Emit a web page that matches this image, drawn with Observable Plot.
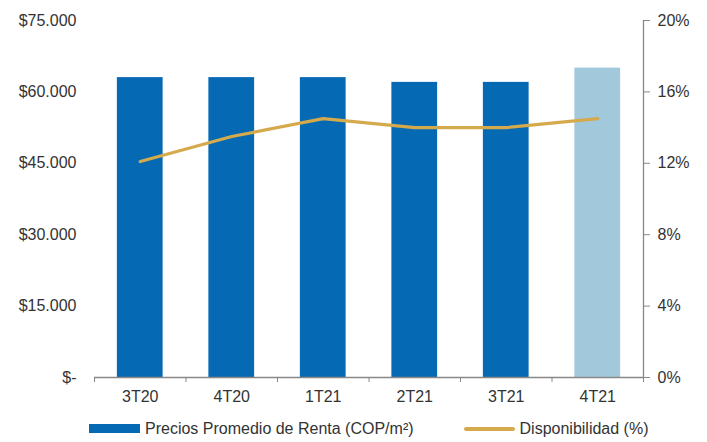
<!DOCTYPE html>
<html>
<head>
<meta charset="utf-8">
<script src="https://cdn.jsdelivr.net/npm/d3@7"></script>
<script src="https://cdn.jsdelivr.net/npm/@observablehq/plot@0.6"></script>
<style>
  body { margin: 0; background: #fff; font-family: "Liberation Sans", Arial, sans-serif; }
  #chart svg { display: block; }
  .legend { display: flex; align-items: center; height: 27px; font-size: 16px; color: #333; padding-left: 89px; }
  .legend .item { display: flex; align-items: center; }
  .legend .swatch-bar { width: 51px; height: 9px; background: #0569b3; margin-right: 5px; }
  .legend .swatch-line { width: 51px; height: 4px; border-radius: 2px; background: #d4aa4d; margin-right: 5px; }
</style>
</head>
<body>
<div id="chart"></div>
<div class="legend">
  <div class="item"><span class="swatch-bar"></span><span>Precios Promedio de Renta (COP/m²)</span></div>
  <div class="item" style="margin-left:50px"><span class="swatch-line"></span><span>Disponibilidad (%)</span></div>
</div>
<script>
// Quarters on the x axis
const quarters = ["3T20", "4T20", "1T21", "2T21", "3T21", "4T21"];
// Average rent price, COP per m²
const rentPrices = [63000, 63000, 63000, 62000, 62000, 65000];
// Availability rate, %
const availability = [12.1, 13.5, 14.5, 14.0, 14.0, 14.5];
// Last quarter is drawn in a lighter shade
const projected = [false, false, false, false, false, true];

const leftTicks = [0, 15000, 30000, 45000, 60000, 75000];
const rightTicks = [0, 4, 8, 12, 16, 20];
const priceMax = 75000;
const pctMax = 20;
const toPrice = p => p * priceMax / pctMax;

const rows = quarters.map((q, i) => ({
  q, i, price: rentPrices[i], pct: availability[i], projected: projected[i]
}));

const fmtPrice = d => d === 0 ? "$-" : "$" + d3.format(",")(d).replace(/,/g, ".");

const chart = Plot.plot({
  width: 707,
  height: 415,
  marginLeft: 94,
  marginRight: 64,
  marginTop: 20,
  marginBottom: 38,
  style: { fontFamily: "Liberation Sans, Arial, sans-serif", fontSize: "16px", color: "#333" },
  x: { type: "linear", domain: [0, quarters.length] },
  y: { domain: [0, priceMax] },
  marks: [
    Plot.rectY(rows, {
      x1: d => d.i + 0.25,
      x2: d => d.i + 0.75,
      y1: 0,
      y2: "price",
      fill: d => d.projected ? "#a2c8dc" : "#0569b3"
    }),
    Plot.line(rows, {
      x: d => d.i + 0.5,
      y: d => toPrice(d.pct),
      stroke: "#d4aa4d",
      strokeWidth: 3.2,
      strokeLinejoin: "round",
      strokeLinecap: "round",
      curve: "linear"
    }),
    // left axis: labels only
    Plot.axisY({
      anchor: "left",
      ticks: leftTicks,
      tickSize: 0,
      tickPadding: 18,
      tickFormat: fmtPrice,
      label: null,
      fill: "#333"
    }),
    // right axis: availability percentages
    Plot.ruleX([quarters.length], { y1: 0, y2: priceMax, stroke: "#888", strokeWidth: 1.3 }),
    Plot.axisY({
      anchor: "right",
      ticks: rightTicks.map(toPrice),
      tickSize: 6,
      tickPadding: 8,
      tickFormat: d => Math.round(d * pctMax / priceMax) + "%",
      stroke: "#888",
      label: null,
      fill: "#333"
    }),
    // baseline with boundary ticks
    Plot.ruleY([0], { stroke: "#888", strokeWidth: 1.3 }),
    Plot.axisX({
      ticks: d3.range(quarters.length + 1),
      tickSize: 5,
      tickFormat: () => "",
      stroke: "#888",
      label: null
    }),
    Plot.axisX({
      ticks: quarters.map((q, i) => i + 0.5),
      tickSize: 0,
      tickPadding: 13,
      tickFormat: d => quarters[Math.floor(d)],
      label: null,
      fill: "#333"
    })
  ]
});

document.getElementById("chart").appendChild(chart);
</script>
</body>
</html>
